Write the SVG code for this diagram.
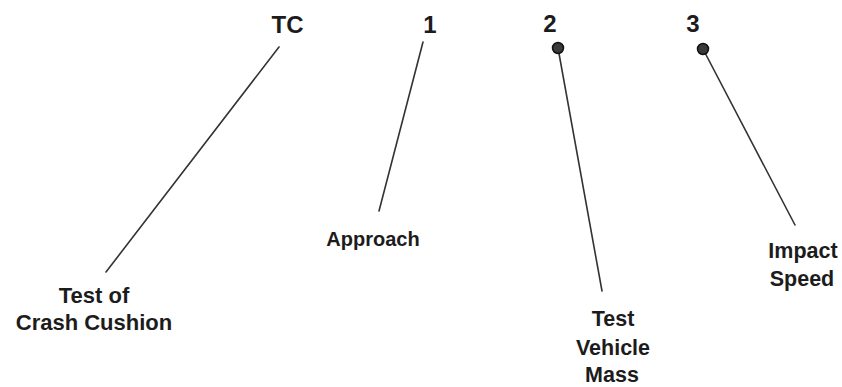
<svg xmlns="http://www.w3.org/2000/svg" width="842" height="387" viewBox="0 0 842 387">
<style>
text{font-family:"Liberation Sans",Arial,sans-serif;font-weight:bold;fill:#1c1c1c;text-anchor:middle}
.h{font-size:24px}
.l{font-size:21.5px}
.c line{stroke:#333;stroke-width:1.6;stroke-linecap:round}
.dot{fill:#3a3a3a;stroke:#111;stroke-width:1.5}
</style>
<rect width="842" height="387" fill="#fff"/>
<g class="c" id="connectors">
<line x1="279" y1="47" x2="106" y2="272"/>
<line x1="423" y1="42" x2="379" y2="211"/>
<line x1="558" y1="48" x2="602" y2="291"/>
<line x1="703" y1="49" x2="795" y2="225"/>
</g>
<g id="tc"><text class="h" x="287.5" y="33">TC</text></g>
<g id="n1"><text class="h" x="430" y="33">1</text></g>
<g id="n2"><text class="h" x="550" y="32">2</text><circle class="dot" cx="558" cy="48" r="5.5"/></g>
<g id="n3"><text class="h" x="693" y="32">3</text><circle class="dot" cx="703" cy="49" r="5.5"/></g>
<g id="crash"><text class="l" x="94" y="303" style="font-size:22px">Test of</text><text class="l" x="94" y="330" style="font-size:22px">Crash Cushion</text></g>
<g id="approach"><text class="l" x="373" y="246" style="font-size:20px">Approach</text></g>
<g id="mass"><text class="l" x="613" y="326">Test</text><text class="l" x="613" y="355">Vehicle</text><text class="l" x="612" y="382">Mass</text></g>
<g id="speed"><text class="l" x="803" y="258">Impact</text><text class="l" x="802" y="286">Speed</text></g>
</svg>
